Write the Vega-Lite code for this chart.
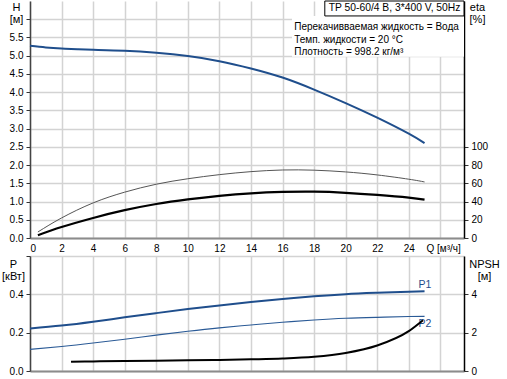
{
  "$schema": "https://vega.github.io/schema/vega-lite/v6.json",
  "padding": {"left": 1, "top": 0, "right": 5, "bottom": 5},
  "spacing": 18,
  "bounds": "flush",
  "config": {
    "font": "Liberation Sans",
    "view": {"stroke": null},
    "axis": {
      "labelFont": "Liberation Sans",
      "labelFontSize": 10,
      "labelColor": "#000000",
      "titleFont": "Liberation Sans",
      "titleFontSize": 11,
      "titleFontWeight": "normal",
      "titleColor": "#000000",
      "gridColor": "#d3d3d3",
      "gridWidth": 1.5,
      "tickColor": "#333333",
      "tickSize": 4,
      "labelPadding": 3
    }
  },
  "datasets": {
    "H": [
      {"Q": 0, "H": 5.27}, {"Q": 1, "H": 5.225}, {"Q": 2, "H": 5.195}, {"Q": 3, "H": 5.175},
      {"Q": 4, "H": 5.16}, {"Q": 6, "H": 5.135}, {"Q": 8, "H": 5.08}, {"Q": 10, "H": 4.99},
      {"Q": 12, "H": 4.85}, {"Q": 14, "H": 4.65}, {"Q": 16, "H": 4.4}, {"Q": 18, "H": 4.07},
      {"Q": 20, "H": 3.7}, {"Q": 22, "H": 3.3}, {"Q": 24, "H": 2.86}, {"Q": 25, "H": 2.6}
    ],
    "eta1": [
      {"Q": 0.5, "eta": 6.6}, {"Q": 2, "eta": 22}, {"Q": 4, "eta": 38.5}, {"Q": 6, "eta": 50.3},
      {"Q": 8, "eta": 59}, {"Q": 10, "eta": 65}, {"Q": 12, "eta": 69.5}, {"Q": 14, "eta": 72.8},
      {"Q": 16, "eta": 74.6}, {"Q": 18, "eta": 74.4}, {"Q": 20, "eta": 72.5}, {"Q": 22, "eta": 69.2},
      {"Q": 24, "eta": 64.5}, {"Q": 25, "eta": 61.5}
    ],
    "eta2": [
      {"Q": 0.5, "eta": 3}, {"Q": 2, "eta": 12}, {"Q": 4, "eta": 22}, {"Q": 6, "eta": 30.5},
      {"Q": 8, "eta": 37.3}, {"Q": 10, "eta": 42.3}, {"Q": 12, "eta": 46.2}, {"Q": 14, "eta": 49},
      {"Q": 16, "eta": 50.5}, {"Q": 18, "eta": 50.8}, {"Q": 20, "eta": 49.6}, {"Q": 22, "eta": 47.3},
      {"Q": 24, "eta": 44.3}, {"Q": 25, "eta": 42.1}
    ],
    "P1": [
      {"Q": 0, "P": 0.222}, {"Q": 2, "P": 0.237}, {"Q": 4, "P": 0.257}, {"Q": 6, "P": 0.28},
      {"Q": 8, "P": 0.302}, {"Q": 10, "P": 0.323}, {"Q": 12, "P": 0.342}, {"Q": 14, "P": 0.36},
      {"Q": 16, "P": 0.376}, {"Q": 18, "P": 0.39}, {"Q": 20, "P": 0.401}, {"Q": 22, "P": 0.408},
      {"Q": 24, "P": 0.414}, {"Q": 25, "P": 0.416}
    ],
    "P2": [
      {"Q": 0, "P": 0.113}, {"Q": 2, "P": 0.128}, {"Q": 4, "P": 0.146}, {"Q": 6, "P": 0.166},
      {"Q": 8, "P": 0.187}, {"Q": 10, "P": 0.207}, {"Q": 12, "P": 0.225}, {"Q": 14, "P": 0.24},
      {"Q": 16, "P": 0.254}, {"Q": 18, "P": 0.266}, {"Q": 20, "P": 0.275}, {"Q": 22, "P": 0.28},
      {"Q": 24, "P": 0.284}, {"Q": 25, "P": 0.285}
    ],
    "NPSH": [
      {"Q": 2.6, "NPSH": 0.48}, {"Q": 4, "NPSH": 0.5}, {"Q": 6, "NPSH": 0.52},
      {"Q": 8, "NPSH": 0.54}, {"Q": 10, "NPSH": 0.56}, {"Q": 12, "NPSH": 0.58},
      {"Q": 14, "NPSH": 0.61}, {"Q": 16, "NPSH": 0.65}, {"Q": 18, "NPSH": 0.74},
      {"Q": 20, "NPSH": 0.94}, {"Q": 22, "NPSH": 1.33}, {"Q": 24, "NPSH": 2.08},
      {"Q": 24.9, "NPSH": 2.65}
    ],
    "bg": [{"Q": 16.6, "Q2": 27.5, "H": 4.97, "H2": 6.09}],
    "titlebox": [{"Q": 18.68, "Q2": 27.5, "H": 6.09, "H2": 6.5}],
    "titletext": [{"Q": 18.93, "H": 6.295, "text": "TP 50-60/4 B, 3*400 V, 50Hz"}],
    "notes": [
      {"Q": 16.74, "H": 5.787, "text": "Перекачивваемая жидкость = Вода"},
      {"Q": 16.74, "H": 5.44, "text": "Темп. жидкости = 20 °C"},
      {"Q": 16.74, "H": 5.093, "text": "Плотность = 998.2 кг/м³"}
    ],
    "plabels": [
      {"Q": 24.62, "P": 0.45, "text": "P1"},
      {"Q": 24.62, "P": 0.246, "text": "P2"}
    ]
  },
  "vconcat": [
    {
      "width": 434,
      "height": 237,
      "encoding": {
        "x": {
          "field": "Q",
          "type": "quantitative",
          "scale": {"domain": [0, 27.5], "nice": false, "zero": false},
          "axis": {
            "values": [0, 2, 4, 6, 8, 10, 12, 14, 16, 18, 20, 22, 24, 26],
            "labelExpr": "datum.value <= 24 ? datum.label : ''",
            "ticks": false,
            "labelPadding": 5,
            "grid": true,
            "domainColor": "#8c8c8c",
            "domainWidth": 2,
            "title": "Q [м³/ч]",
            "titleFontSize": 10,
            "titleAlign": "left",
            "titleBaseline": "middle",
            "titleX": 396,
            "titleY": 10
          }
        }
      },
      "layer": [
        {
          "encoding": {
            "y": {
              "field": "H",
              "type": "quantitative",
              "scale": {"domain": [0, 6.5], "nice": false, "zero": false},
              "axis": {
                "values": [0, 0.5, 1, 1.5, 2, 2.5, 3, 3.5, 4, 4.5, 5, 5.5, 6],
                "labelExpr": "datum.value < 5.9 ? format(datum.value, '.1f') : ''",
                "grid": true,
                "domainColor": "#444444",
                "domainWidth": 1.5,
                "title": ["H", "[м]"],
                "titleAngle": 0,
                "titleAlign": "center",
                "titleBaseline": "top",
                "titleLineHeight": 12,
                "titleX": -14,
                "titleY": 0
              }
            }
          },
          "layer": [
            {
              "data": {"name": "bg"},
              "mark": {"type": "rect", "fill": "white", "strokeWidth": 0},
              "encoding": {"x2": {"field": "Q2"}, "y2": {"field": "H2"}}
            },
            {
              "data": {"name": "titlebox"},
              "mark": {"type": "rect", "fill": "white", "stroke": "black", "strokeWidth": 1},
              "encoding": {"x2": {"field": "Q2"}, "y2": {"field": "H2"}}
            },
            {
              "data": {"name": "titletext"},
              "mark": {"type": "text", "align": "left", "baseline": "middle", "fontSize": 10.3, "color": "black"},
              "encoding": {"text": {"field": "text"}}
            },
            {
              "data": {"name": "notes"},
              "mark": {"type": "text", "align": "left", "baseline": "middle", "fontSize": 10, "color": "black"},
              "encoding": {"text": {"field": "text"}}
            },
            {
              "data": {"name": "H"},
              "mark": {"type": "line", "color": "#1f4e8c", "strokeWidth": 2, "interpolate": "natural"},
              "encoding": {}
            }
          ]
        },
        {
          "encoding": {
            "y": {
              "field": "eta",
              "type": "quantitative",
              "scale": {"domain": [0, 260], "nice": false, "zero": false},
              "axis": {
                "orient": "right",
                "values": [0, 20, 40, 60, 80, 100],
                "grid": false,
                "domainColor": "#000000",
                "domainWidth": 1.5,
                "title": ["eta", "[%]"],
                "titleAngle": 0,
                "titleAlign": "center",
                "titleBaseline": "top",
                "titleLineHeight": 12,
                "titleX": 13,
                "titleY": 0
              }
            }
          },
          "layer": [
            {
              "data": {"name": "eta1"},
              "mark": {"type": "line", "color": "#555555", "strokeWidth": 1, "interpolate": "natural"},
              "encoding": {}
            },
            {
              "data": {"name": "eta2"},
              "mark": {"type": "line", "color": "#000000", "strokeWidth": 2.2, "interpolate": "natural"},
              "encoding": {}
            }
          ]
        }
      ],
      "resolve": {"scale": {"y": "independent"}}
    },
    {
      "width": 434,
      "height": 115,
      "encoding": {
        "x": {
          "field": "Q",
          "type": "quantitative",
          "scale": {"domain": [0, 27.5], "nice": false, "zero": false},
          "axis": {
            "values": [0, 2, 4, 6, 8, 10, 12, 14, 16, 18, 20, 22, 24, 26],
            "labels": false,
            "ticks": false,
            "grid": true,
            "domainColor": "#8c8c8c",
            "domainWidth": 2,
            "title": null
          }
        }
      },
      "layer": [
        {
          "encoding": {
            "y": {
              "field": "P",
              "type": "quantitative",
              "scale": {"domain": [0, 0.6], "nice": false, "zero": false},
              "axis": {
                "values": [0, 0.2, 0.4, 0.6],
                "labelExpr": "datum.value < 0.5 ? format(datum.value, '.1f') : ''",
                "grid": true,
                "domainColor": "#444444",
                "domainWidth": 1.5,
                "title": ["P", "[кВт]"],
                "titleAngle": 0,
                "titleAlign": "center",
                "titleBaseline": "top",
                "titleLineHeight": 12,
                "titleX": -17,
                "titleY": 2
              }
            }
          },
          "layer": [
            {
              "data": {"name": "P1"},
              "mark": {"type": "line", "color": "#1f4e8c", "strokeWidth": 2, "interpolate": "natural"},
              "encoding": {}
            },
            {
              "data": {"name": "P2"},
              "mark": {"type": "line", "color": "#2a5a96", "strokeWidth": 1.1, "interpolate": "natural"},
              "encoding": {}
            },
            {
              "data": {"name": "plabels"},
              "mark": {"type": "text", "align": "left", "baseline": "middle", "fontSize": 10.5, "color": "#1f4e8c"},
              "encoding": {"text": {"field": "text"}}
            }
          ]
        },
        {
          "data": {"name": "NPSH"},
          "mark": {"type": "line", "color": "#000000", "strokeWidth": 2, "interpolate": "monotone"},
          "encoding": {
            "y": {
              "field": "NPSH",
              "type": "quantitative",
              "scale": {"domain": [0, 6], "nice": false, "zero": false},
              "axis": {
                "orient": "right",
                "values": [0, 2, 4],
                "grid": false,
                "domainColor": "#000000",
                "domainWidth": 1.5,
                "title": ["NPSH", "[м]"],
                "titleAngle": 0,
                "titleAlign": "center",
                "titleBaseline": "top",
                "titleLineHeight": 12,
                "titleX": 20,
                "titleY": 2
              }
            }
          }
        }
      ],
      "resolve": {"scale": {"y": "independent"}}
    }
  ]
}
